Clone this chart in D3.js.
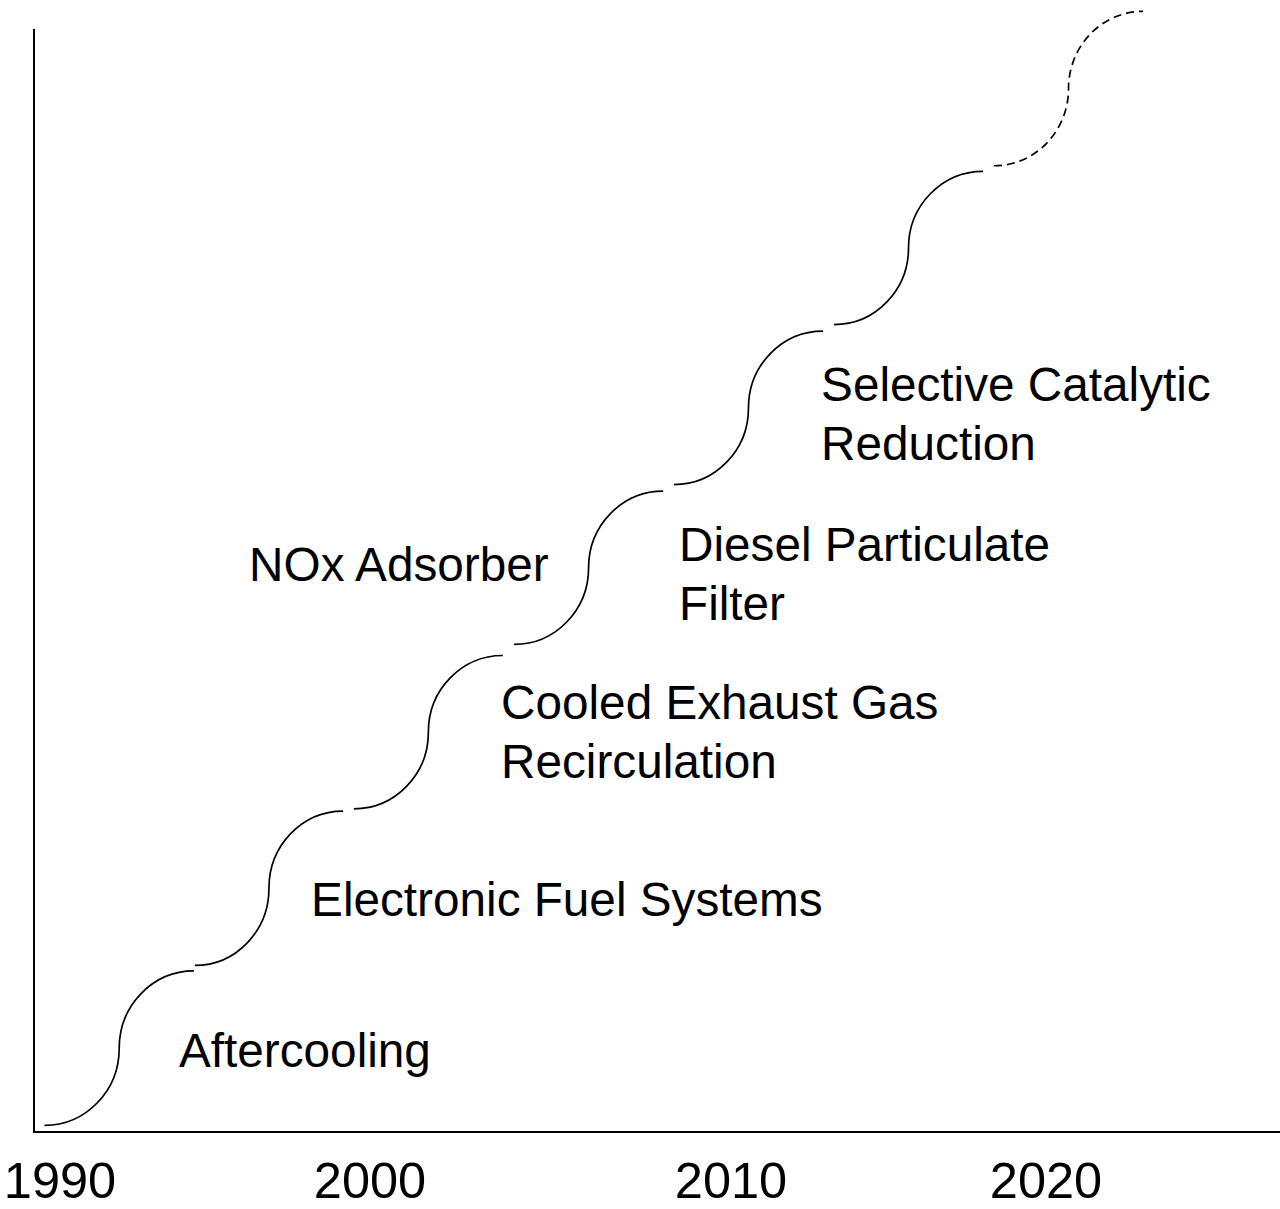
<!DOCTYPE html>
<html>
<head>
<meta charset="utf-8">
<script src="https://cdn.jsdelivr.net/npm/d3@7"></script>
<style>
  html, body { margin: 0; padding: 0; background: #fff; }
  svg { display: block; font-family: "Liberation Sans", Arial, sans-serif; }
</style>
</head>
<body>
<div class="chart"></div>
<script>
// tick years along the bottom
const years = [1990, 2000, 2010, 2020];

// each technology step: start/end year and start/end level (% of axis height)
const stepNames = ["Aftercooling", "Electronic Fuel Systems", "Cooled Exhaust Gas Recirculation",
                   "NOx Adsorber", "Diesel Particulate Filter", "Selective Catalytic Reduction", "Future"];
const stepStart = [1989.5, 1994.35, 1999.48, 2003.99, 2008.42, 2013.27, 2018.35];
const stepEnd   = [1994.32, 1999.13, 2003.68, 2008.12, 2012.92, 2018.0, 2023.08];
const levelStart = [0.6, 15.1, 29.3, 44.2, 58.7, 73.2, 87.6];
const levelEnd   = [14.6, 29.1, 43.2, 58.1, 72.6, 87.1, 101.6];
const dashed     = [false, false, false, false, false, false, true];

// label text (line by line) and anchor in data units
const labelLines = [["Aftercooling"], ["Electronic Fuel Systems"], ["Cooled Exhaust Gas", "Recirculation"],
                    ["NOx Adsorber"], ["Diesel Particulate", "Filter"], ["Selective Catalytic", "Reduction"]];
const labelYear  = [1993.84, 1998.1, 2003.63, 1996.1, 2008.56, 2012.86];
const labelLevel = [5.9, 19.6, 37.4, 50.0, 51.8, 66.3];

const w = 1280, h = 1209;
const axisLeft = 34, axisTop = 29, axisBottom = 1132;

// the original slide spaces the decades a little unevenly
const x = d3.scaleLinear()
  .domain(years)
  .range([60, 370, 731, 1046]);

const y = d3.scaleLinear()
  .domain([0, 100])
  .range([axisBottom, axisTop]);

const svg = d3.select(".chart")
  .append("svg")
  .attr("width", w)
  .attr("height", h);

// axes
svg.append("line")
  .attr("x1", axisLeft).attr("x2", axisLeft)
  .attr("y1", axisTop).attr("y2", axisBottom + 1)
  .attr("stroke", "#000").attr("stroke-width", 2);
svg.append("line")
  .attr("x1", axisLeft - 1).attr("x2", w)
  .attr("y1", axisBottom).attr("y2", axisBottom)
  .attr("stroke", "#000").attr("stroke-width", 2);

// S-curve made of two quarter ellipses (bezier approximation)
const k = 0.5523;
function sCurve(i) {
  const x0 = x(stepStart[i]), x1 = x(stepEnd[i]);
  const y0 = y(levelStart[i]), y1 = y(levelEnd[i]);
  const xm = (x0 + x1) / 2, ym = (y0 + y1) / 2;
  const p = d3.path();
  p.moveTo(x0, y0);
  p.bezierCurveTo(x0 + k * (xm - x0), y0, xm, ym + k * (y0 - ym), xm, ym);
  p.bezierCurveTo(xm, ym - k * (ym - y1), x1 - k * (x1 - xm), y1, x1, y1);
  return p.toString();
}

svg.append("g")
    .attr("class", "steps")
  .selectAll("path")
  .data(d3.range(stepNames.length))
  .enter()
    .append("path")
    .attr("d", sCurve)
    .attr("fill", "none")
    .attr("stroke", "#000")
    .attr("stroke-width", 1.7)
    .attr("stroke-dasharray", i => dashed[i] ? "8,5" : null);

// step labels
const labels = svg.append("g")
    .attr("class", "labels")
  .selectAll("text")
  .data(d3.range(labelLines.length))
  .enter()
    .append("text")
    .attr("x", i => x(labelYear[i]))
    .attr("y", i => y(labelLevel[i]))
    .attr("font-size", 47.7)
    .attr("fill", "#000");

labels.selectAll("tspan")
  .data(i => labelLines[i].map((t, j) => ({ t, j, i })))
  .enter()
    .append("tspan")
    .attr("x", d => x(labelYear[d.i]))
    .attr("dy", d => d.j === 0 ? 0 : 59)
    .text(d => d.t);

// year labels
svg.append("g")
    .attr("class", "years")
  .selectAll("text")
  .data(years)
  .enter()
    .append("text")
    .attr("x", d => x(d))
    .attr("y", 1198)
    .attr("text-anchor", "middle")
    .attr("font-size", 50.5)
    .attr("fill", "#000")
    .text(d => d);
</script>
</body>
</html>
